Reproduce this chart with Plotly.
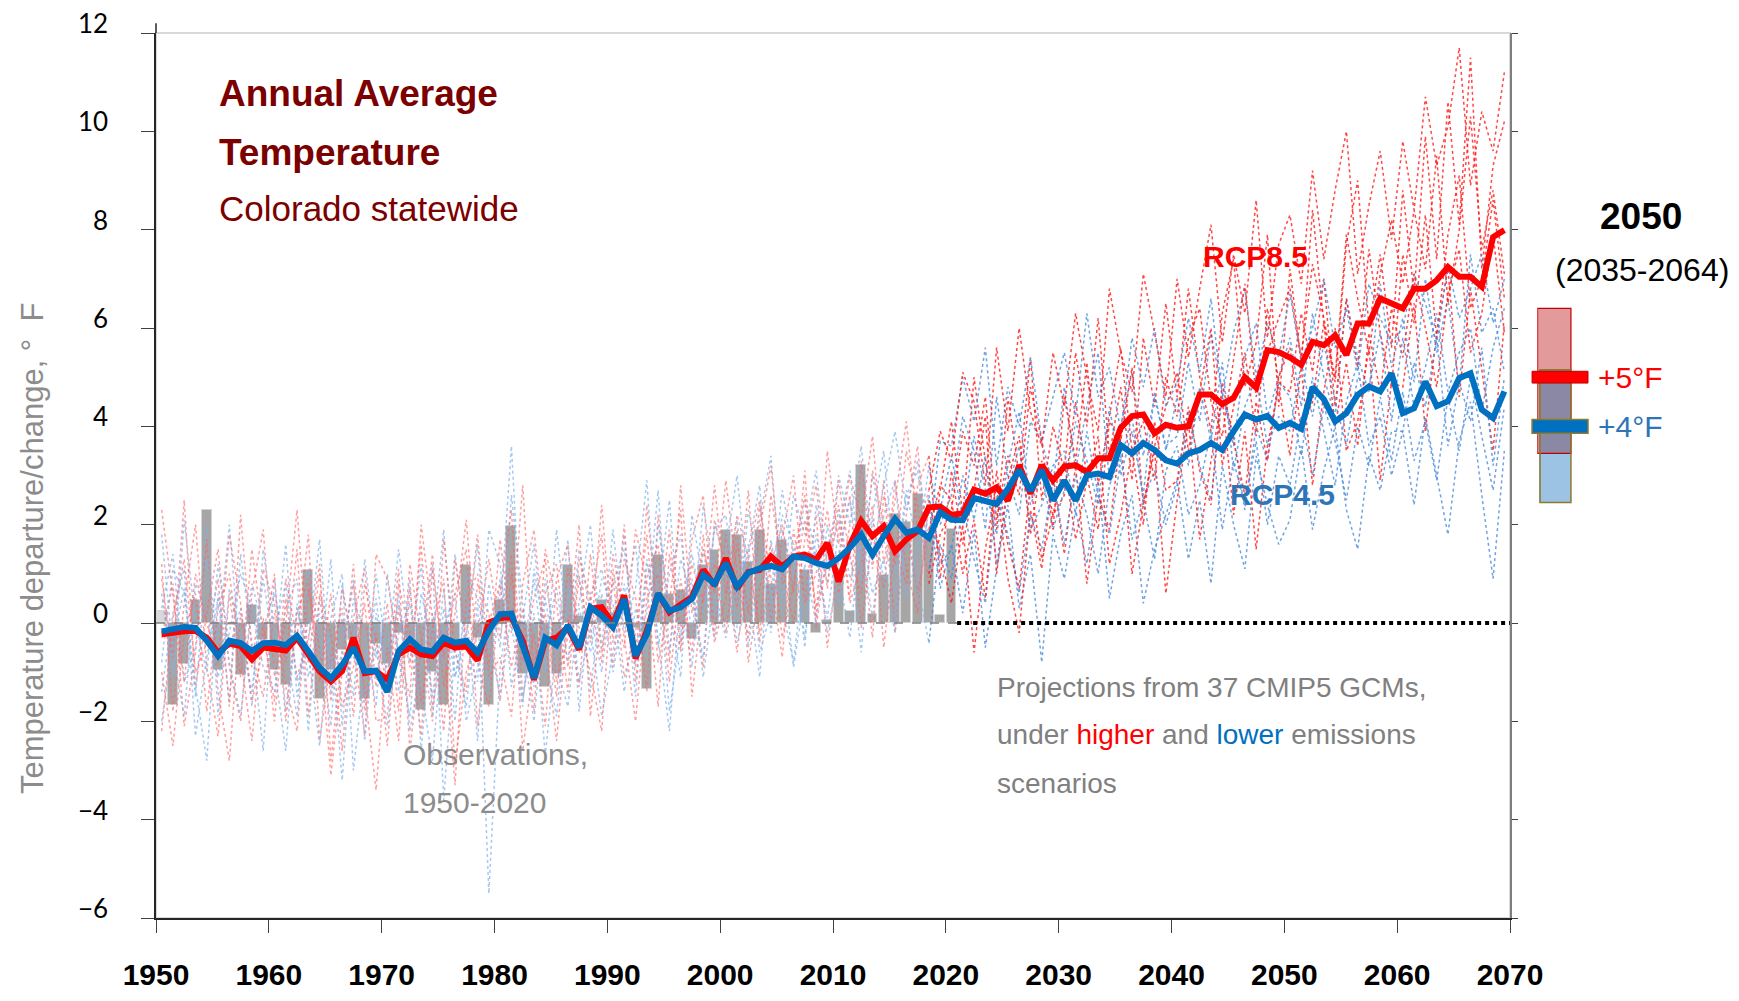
import plotly.graph_objects as go

# ---------------- data ----------------
obs_years = list(range(1950, 2021))
obs_anom = [0.24, -1.66, -0.83, 0.46, 2.29, -0.95, -0.05, -1.05, 0.36, -0.34,
            -0.95, -1.26, -0.05, 1.07, -1.55, -0.95, -0.55, -0.34, -1.55, -0.43,
            -0.83, -0.20, -0.30, -1.76, -1.00, -1.66, -0.45, 1.17, -0.30, -1.66,
            0.46, 1.98, -1.04, -0.90, -1.30, -1.03, 1.18, 0.15, 0.05, 0.46,
            0.20, -0.05, -0.10, -1.35, 1.39, 0.58, 0.67, -0.33, 1.18, 1.49,
            1.89, 1.78, 1.25, 1.89, 0.79, 1.68, 1.39, 1.08, -0.21, 0.06,
            1.09, 0.25, 3.21, 0.19, 0.98, 2.22, 2.05, 2.63, 1.77, 0.16,
            1.92]

proj_years = list(range(1950, 2070))
rcp45_mean = [-0.17, -0.12, -0.08, -0.10, -0.36, -0.67, -0.36, -0.41, -0.57, -0.41,
              -0.40, -0.45, -0.26, -0.57, -0.91, -1.12, -0.85, -0.50, -0.98, -0.97,
              -1.40, -0.57, -0.33, -0.54, -0.58, -0.30, -0.40, -0.36, -0.60, -0.16,
              0.18, 0.19, -0.50, -1.12, -0.30, -0.45, -0.05, -0.50, 0.32, 0.15,
              -0.09, 0.49, -0.67, -0.23, 0.60, 0.25, 0.32, 0.49, 0.98, 0.80,
              1.22, 0.74, 1.02, 1.11, 1.16, 1.09, 1.35, 1.32, 1.22, 1.16,
              1.32, 1.53, 1.80, 1.39, 1.77, 2.12, 1.84, 1.90, 1.73, 2.25,
              2.10, 2.09, 2.54, 2.49, 2.42, 2.73, 3.11, 2.69, 3.11, 2.49,
              2.90, 2.49, 3.00, 3.04, 2.97, 3.62, 3.45, 3.66, 3.52, 3.31,
              3.24, 3.45, 3.52, 3.66, 3.52, 3.90, 4.24, 4.14, 4.21, 3.97,
              4.07, 3.95, 4.80, 4.55, 4.10, 4.27, 4.64, 4.81, 4.71, 5.08,
              4.27, 4.37, 4.91, 4.41, 4.51, 4.98, 5.08, 4.34, 4.17, 4.71]
rcp85_mean = [-0.23, -0.19, -0.17, -0.16, -0.30, -0.60, -0.42, -0.47, -0.74, -0.50,
              -0.52, -0.56, -0.30, -0.64, -0.98, -1.19, -0.98, -0.30, -1.02, -0.98,
              -1.15, -0.64, -0.50, -0.64, -0.67, -0.40, -0.50, -0.47, -0.76, 0.01,
              0.10, 0.12, -0.36, -1.15, -0.36, -0.30, -0.09, -0.54, 0.29, 0.32,
              -0.02, 0.56, -0.72, -0.16, 0.60, 0.22, 0.39, 0.53, 1.08, 0.77,
              1.32, 0.70, 1.04, 1.08, 1.35, 1.15, 1.35, 1.39, 1.29, 1.63,
              0.84, 1.59, 2.08, 1.77, 1.97, 1.46, 1.70, 1.87, 2.35, 2.37,
              2.20, 2.23, 2.71, 2.63, 2.76, 2.49, 3.21, 2.63, 3.21, 2.90,
              3.18, 3.21, 3.07, 3.35, 3.35, 3.97, 4.21, 4.24, 3.86, 4.03,
              3.97, 4.00, 4.65, 4.65, 4.45, 4.58, 5.00, 4.79, 5.55, 5.51,
              5.40, 5.25, 5.72, 5.65, 5.85, 5.45, 6.09, 6.09, 6.60, 6.50,
              6.40, 6.80, 6.80, 6.97, 7.24, 7.04, 7.04, 6.84, 7.85, 7.99]

# individual model runs (estimated from the cloud of dotted lines)
rcp85_m1 = [1.2, -1.8, 0.4, 2.0, -0.9, -2.3, 0.6, -1.1, 1.5, -0.2,
            -1.6, 0.9, -0.3, 1.8, -2.4, -0.7, 0.3, -1.9, 0.8, -0.4,
            -1.2, 1.1, -2.6, -0.5, 1.4, -1.3, 0.2, 2.1, -0.8, -1.7,
            0.6, 2.3, -1.5, -0.2, -2.1, 0.9, 1.6, -0.6, 0.4, 1.8,
            -0.9, 1.3, 0.5, -1.4, 2.2, 0.1, -0.5, 1.7, 2.6, -0.2,
            1.8, 0.3, 2.7, -0.4, 1.2, 2.0, 0.6, 3.1, -0.1, 1.5,
            2.4, 0.5, 3.3, 1.1, 2.9, -0.2, 2.2, 3.6, 1.0, 2.7,
            4.1, 2.2, 5.0, 3.3, 1.9, 4.6, 3.0, 5.4, 2.5, 4.0,
            3.1, 5.5, 4.0, 6.2, 3.4, 4.8, 2.9, 5.8, 4.4, 6.5,
            4.6, 6.8, 5.0, 3.9, 6.3, 7.4, 4.8, 5.7, 7.9, 4.4,
            7.2, 5.3, 8.4, 6.1, 4.9, 7.7, 9.0, 6.0, 7.5, 5.6,
            8.8, 6.7, 9.9, 7.4, 10.6, 8.1, 11.5, 7.2, 9.3, 10.2]
rcp85_m2 = [-0.3, 0.8, -2.1, -0.6, 1.7, -1.4, -2.8, 0.2, -0.9, 1.1,
            0.4, -1.3, -2.2, 0.7, -0.5, -3.1, -1.0, 1.2, -1.8, -0.2,
            -2.5, 0.3, -0.9, 1.6, -1.7, -0.4, -3.3, 0.5, 1.0, -1.1,
            -0.7, -1.9, 0.8, 1.9, -0.4, -2.4, 0.1, -1.3, 1.4, -0.6,
            0.9, -1.1, -0.2, 1.8, -0.8, 0.4, 2.3, -1.5, 0.6, 1.2,
            -0.2, 1.6, 0.2, 2.4, 0.9, -0.7, 1.9, 0.5, 2.2, -0.5,
            1.3, 2.6, -0.1, 1.8, 0.7, 2.9, 1.1, 0.2, 2.5, 1.4,
            0.4, 2.0, -0.6, 1.5, 2.8, 0.9, -0.2, 2.3, 1.1, 3.0,
            1.4, 3.2, 0.8, 2.6, 1.9, 3.8, 1.0, 2.4, 3.5, 0.6,
            2.5, 4.1, 1.7, 3.3, 4.6, 2.2, 3.9, 1.5, 3.6, 4.8,
            3.4, 5.2, 2.8, 4.7, 6.0, 3.5, 4.1, 5.6, 2.9, 4.9,
            4.8, 6.5, 3.9, 5.9, 7.2, 4.6, 6.8, 5.1, 3.5, 6.1]
rcp85_m3 = [-2.2, 0.1, 1.3, -1.0, -0.4, 0.9, -1.7, 2.2, -0.6, -1.5,
            0.2, -0.8, 1.5, -1.9, 0.6, -0.2, -2.6, 0.1, 1.1, -1.3,
            0.4, -1.8, 1.2, -0.3, -2.0, 1.7, -0.6, -1.4, 0.8, 0.2,
            -1.6, 1.0, -0.8, 0.5, 1.3, -1.2, -0.3, 2.0, -1.9, 0.3,
            0.3, -0.5, 1.9, 0.8, -1.7, 1.4, -0.1, 0.7, -0.9, 2.1,
            1.1, -0.6, 1.4, 2.5, 0.0, 1.7, 3.0, 0.4, 1.0, 2.3,
            0.6, 2.0, 1.7, -0.3, 2.6, 1.5, 0.8, 2.8, 3.4, 0.9,
            3.1, 1.6, 2.7, 4.2, 1.0, 2.9, 3.8, 1.8, 3.3, 2.2,
            2.6, 4.5, 3.0, 1.9, 4.1, 3.7, 5.2, 2.4, 3.6, 4.4,
            5.1, 3.5, 4.7, 6.0, 3.2, 4.4, 5.5, 3.8, 6.4, 4.9,
            4.7, 6.3, 5.1, 7.0, 4.4, 6.6, 5.2, 7.6, 5.9, 4.8,
            7.5, 6.1, 8.3, 5.8, 7.9, 9.1, 6.4, 7.0, 8.6, 6.6]
rcp85_m4 = [0.9, -0.7, 2.5, -1.3, 0.2, 1.5, -0.9, -2.0, 0.6, 1.9,
            -1.1, 0.0, 2.3, -0.8, 1.0, -1.6, 0.7, -0.5, -2.3, 1.4,
            0.9, -0.6, -1.5, 2.0, 0.1, -2.2, 1.3, -0.3, 1.8, -0.9,
            1.7, -0.2, 2.8, -1.1, 0.6, 1.2, -0.9, 0.9, -0.4, 2.4,
            -0.4, 2.0, -1.2, 0.9, 1.6, -0.8, 2.8, 0.2, 1.5, 0.6,
            2.9, 1.0, -0.3, 1.9, 3.2, 0.8, 1.3, 2.6, 0.1, 3.5,
            1.6, 3.0, 2.1, 3.8, 1.2, 2.5, 4.1, 1.9, 2.7, 3.9,
            3.3, 5.1, 4.5, 2.8, 5.6, 3.9, 6.0, 4.3, 3.6, 5.5,
            4.4, 6.3, 5.0, 3.9, 6.8, 5.5, 4.7, 7.1, 5.9, 4.6,
            7.0, 5.4, 6.8, 8.1, 5.7, 7.5, 6.3, 8.6, 5.8, 7.7,
            8.3, 6.9, 9.2, 7.4, 8.8, 10.0, 7.1, 8.5, 9.6, 7.8,
            9.8, 8.4, 10.7, 9.3, 10.1, 11.7, 8.9, 10.4, 9.6, 11.2]
rcp85_m5 = [-1.0, -2.5, -0.2, 0.6, -1.8, 0.3, 1.0, -0.7, -2.4, 0.1,
            -2.0, 0.5, -1.1, -0.3, 1.2, -2.8, -0.6, 0.8, -1.4, -3.4,
            -0.5, -2.4, 0.7, -1.6, -0.1, 0.9, -2.9, -1.0, -0.2, 1.3,
            -0.3, 1.4, -2.6, -0.8, 0.2, -1.5, 1.1, -0.1, -1.0, -2.2,
            1.1, -0.3, -2.0, 0.5, 1.0, -1.2, 0.9, -0.6, 1.8, -0.4,
            0.5, 1.9, -0.8, 0.7, 1.6, -0.3, 0.8, 2.1, 0.3, 1.2,
            2.1, 0.4, 1.2, 2.4, -0.5, 1.6, 2.0, 0.6, 1.9, 2.8,
            2.5, 1.0, 2.1, 0.5, 3.1, 1.6, 0.7, 2.8, 1.3, 2.2,
            3.3, 1.7, 2.9, 3.8, 1.2, 2.2, 3.5, 2.0, 4.1, 2.7,
            2.9, 4.4, 3.1, 2.4, 4.9, 3.7, 2.6, 4.5, 3.3, 5.0,
            5.6, 3.9, 4.5, 6.1, 4.0, 5.3, 3.6, 5.9, 4.7, 6.4,
            5.4, 7.1, 6.0, 4.8, 6.7, 7.6, 5.5, 6.3, 7.9, 5.9]
rcp85_m6 = [2.3, 0.5, -1.2, 1.0, 0.0, -0.8, 1.8, 0.4, -1.6, -0.5,
            1.0, -2.0, 0.2, 0.9, -1.2, 0.6, -1.7, -0.9, 0.4, -2.0,
            -1.9, 0.8, -0.2, -2.3, 1.1, -0.7, 0.6, 1.5, -2.1, 0.0,
            0.8, -0.9, 0.3, -1.8, 1.5, 0.4, -1.4, 1.3, 0.5, -0.8,
            1.4, 0.2, -0.8, 2.4, 0.0, 1.9, -0.6, 1.2, 0.4, 2.8,
            0.6, 2.2, 1.3, -0.2, 2.6, 1.1, 0.0, 1.7, 2.8, 0.7,
            2.9, 1.3, 0.6, 3.1, 2.0, 1.2, 3.5, 2.4, 0.8, 1.8,
            2.3, 3.9, 3.2, 4.6, 2.1, 3.4, 2.6, 4.8, 3.7, 1.9,
            4.6, 3.3, 5.3, 2.8, 4.2, 5.6, 3.5, 4.1, 2.9, 5.0,
            4.2, 5.8, 6.4, 4.5, 3.8, 5.3, 6.9, 4.6, 5.5, 6.2,
            6.8, 5.4, 7.3, 6.2, 5.0, 7.9, 6.6, 5.5, 7.1, 8.2,
            6.9, 8.4, 7.2, 9.5, 6.5, 8.0, 10.3, 7.6, 8.8, 7.1]

rcp45_m1 = [0.3, 1.4, -1.2, -0.5, 2.0, -1.9, 0.7, -0.3, -1.4, 0.9,
            -0.6, 1.6, -1.5, 0.1, -0.9, 1.3, -2.1, 0.5, -0.2, -1.7,
            1.0, -0.7, -1.9, 0.6, -0.4, 1.9, -1.1, 0.3, -2.4, 0.8,
            -0.5, 2.6, 0.4, -1.3, 0.9, -0.6, 1.7, -1.8, 0.6, 1.1,
            0.0, 1.8, -0.9, 1.2, 0.5, 2.5, -0.4, 1.4, 0.2, 1.9,
            2.2, 0.4, 1.5, 2.8, -0.2, 1.9, 0.9, 2.5, 1.3, 0.1,
            1.9, 3.1, 0.8, 2.2, 3.5, 1.0, 2.7, 1.5, 3.2, 2.0,
            2.6, 4.2, 3.5, 1.9, 4.6, 3.0, 2.2, 4.1, 3.7, 2.8,
            4.8, 3.1, 4.4, 5.5, 2.9, 4.0, 5.1, 3.4, 4.6, 3.6,
            3.8, 5.3, 4.1, 5.9, 4.7, 3.6, 5.4, 6.1, 4.2, 5.0,
            5.8, 4.4, 6.3, 5.0, 4.2, 6.6, 5.4, 4.7, 6.9, 5.2,
            6.2, 4.9, 7.0, 5.5, 6.6, 4.8, 7.5, 5.9, 6.4, 5.1]
rcp45_m2 = [-1.4, 0.2, 1.1, -2.3, -0.7, 0.5, -1.6, 1.4, -0.4, -2.6,
            0.9, -1.8, 0.3, -0.6, -2.5, 0.1, 1.0, -3.0, -0.9, 0.5,
            -1.3, 0.6, -2.2, -0.8, 1.2, -3.6, -0.5, -1.7, 0.4, -5.5,
            -0.9, 0.7, -1.6, 0.2, -2.7, -0.4, 0.8, -1.2, -0.1, -1.9,
            -0.6, 0.8, -1.5, 1.3, -0.3, -2.2, 0.6, -0.9, 1.5, 0.1,
            1.0, -0.4, 0.6, -1.1, 1.7, 0.3, -0.8, 1.2, 0.0, 2.0,
            0.4, 1.5, -0.6, 2.1, 0.9, -0.2, 1.8, 0.6, 2.4, 0.7,
            1.6, 0.2, 1.9, -0.5, 1.1, 2.4, 0.3, 1.4, -0.8, 1.8,
            0.9, 2.3, 1.2, 2.9, 0.5, 1.8, 2.6, 0.4, 1.5, 2.2,
            2.9, 1.3, 2.5, 0.8, 3.2, 2.0, 1.1, 3.4, 2.4, 1.6,
            2.1, 3.6, 1.9, 3.1, 4.0, 2.3, 1.5, 3.4, 2.7, 3.9,
            3.9, 2.4, 4.2, 3.0, 1.8, 3.7, 4.5, 2.6, 0.9, 3.5]
rcp45_m3 = [1.8, -0.6, -1.9, 0.8, 0.2, -1.1, -0.2, 1.0, 0.3, -0.9,
            -1.4, 0.3, 0.9, -2.2, 0.5, -1.0, 0.1, -1.5, 1.3, -0.7,
            0.1, -1.4, 0.9, -2.6, 0.2, -0.9, 1.4, -0.5, -1.2, 1.9,
            1.2, -1.3, 0.1, 1.6, -0.7, -1.9, 0.5, 1.0, -1.4, 0.6,
            -1.0, 0.4, 1.6, -0.7, 2.0, 0.3, -1.1, 2.2, 0.8, -0.3,
            0.9, 2.1, -0.5, 1.3, 0.6, 2.7, 1.4, -0.3, 1.8, 0.8,
            2.3, 0.9, 1.6, 0.1, 2.2, 2.9, 0.5, 1.4, 2.6, 1.2,
            1.5, 3.0, 2.1, 3.4, 1.2, 2.7, 3.6, 1.9, 2.4, 3.2,
            3.5, 2.2, 3.9, 2.6, 1.8, 3.3, 4.2, 2.5, 3.1, 2.0,
            2.8, 4.3, 3.2, 2.5, 4.6, 3.8, 2.3, 4.0, 3.3, 4.9,
            4.6, 3.4, 5.0, 3.9, 2.8, 4.5, 5.3, 3.6, 4.2, 3.0,
            3.9, 5.3, 4.4, 5.8, 3.6, 4.9, 4.1, 5.6, 3.2, 5.0]
rcp45_m4 = [-0.8, 1.1, 0.6, -1.5, 1.3, -0.4, 2.0, -0.9, 0.8, -0.1,
            0.6, -0.5, -1.9, 1.1, -0.3, -2.1, 0.8, -0.7, -1.1, 1.0,
            -0.7, 1.5, -0.4, 0.2, -1.5, 0.7, -2.0, 1.0, 0.5, -0.6,
            0.2, 3.6, -0.7, 0.9, -1.0, 1.9, -0.2, 0.4, 2.0, -0.5,
            1.9, -0.2, 0.7, 2.9, -0.5, 1.0, 1.8, -0.3, 2.4, 0.9,
            1.5, 3.0, 0.7, 2.1, 3.4, 0.5, 2.6, 1.8, 3.1, 1.1,
            3.0, 2.0, 3.6, 1.4, 2.8, 3.9, 2.3, 3.3, 1.7, 3.7,
            3.6, 5.0, 4.1, 5.6, 3.2, 4.8, 4.0, 5.4, 3.7, 4.6,
            5.5, 4.2, 6.3, 4.6, 5.2, 3.9, 5.8, 4.8, 6.0, 4.4,
            4.9, 6.2, 5.1, 6.6, 4.6, 5.9, 6.8, 5.0, 6.1, 5.4,
            6.7, 5.3, 6.0, 7.0, 5.6, 6.4, 5.1, 6.9, 6.2, 5.7,
            6.0, 7.1, 6.5, 5.7, 7.3, 6.2, 6.8, 7.5, 6.1, 7.0]
rcp45_m5 = [-2.0, -0.4, 0.7, -1.3, -2.8, 0.6, -0.8, -1.9, 0.4, -0.3,
            -0.9, -2.6, 0.4, -1.1, 0.2, -0.4, -3.2, 0.0, -1.6, -0.5,
            -2.1, -0.2, 0.4, -1.3, -2.8, -0.1, 0.6, -2.0, -0.9, -0.3,
            -1.5, 0.2, -0.4, -2.0, 0.5, -0.9, -1.7, 0.3, -0.6, 0.9,
            0.4, -1.4, 0.3, -0.5, 1.1, -1.8, -0.2, 0.9, -1.1, 0.6,
            -0.3, 0.8, 1.6, -0.6, 0.2, 1.2, -0.9, 0.6, 1.5, -0.2,
            1.0, -0.3, 1.9, 0.6, 1.3, 0.0, 2.1, 0.8, -0.4, 1.6,
            0.9, 2.4, 1.3, 0.4, 2.6, 1.8, 0.6, 2.2, 1.5, 2.9,
            1.6, 3.0, 2.2, 1.0, 2.8, 3.4, 1.7, 2.5, 1.3, 3.1,
            3.6, 2.2, 2.8, 3.9, 1.9, 3.3, 2.4, 3.7, 2.0, 3.4,
            2.8, 4.2, 3.0, 4.4, 3.7, 2.5, 4.0, 3.2, 4.6, 3.3,
            4.7, 3.3, 4.1, 2.9, 4.6, 3.5, 5.0, 3.8, 2.7, 4.4]
rcp45_m6 = [0.6, -1.1, 2.1, 0.0, -1.0, 1.2, -0.5, 0.3, -1.7, 1.5,
            -0.2, 0.8, -1.2, -0.4, 1.7, -1.4, -0.6, 0.9, -2.4, 0.2,
            -1.0, 0.4, -0.8, 1.2, -1.9, 0.3, -1.1, -0.2, 1.6, -1.4,
            0.9, 0.0, -1.7, 1.1, -0.3, 0.7, -0.8, 1.5, 0.2, -1.0,
            0.8, 1.5, -0.4, 0.2, 2.7, -0.6, 1.3, 0.5, -0.7, 2.0,
            1.2, -0.1, 2.3, 1.0, 0.4, 2.2, 1.6, -0.5, 2.4, 1.3,
            1.4, 2.5, 1.0, 3.0, 1.7, 0.6, 2.6, 3.1, 1.1, 2.3,
            3.4, 2.1, 3.8, 2.7, 1.8, 3.2, 4.3, 2.4, 3.0, 1.9,
            2.7, 4.1, 3.3, 2.4, 4.4, 3.0, 3.9, 2.6, 4.7, 3.5,
            4.6, 3.2, 4.8, 3.7, 5.3, 3.1, 4.4, 5.0, 3.6, 4.2,
            3.9, 5.3, 4.2, 5.7, 4.5, 3.6, 5.0, 4.8, 5.9, 4.1,
            5.8, 4.4, 5.2, 6.3, 4.7, 5.5, 6.0, 4.3, 5.6, 6.4]

# 2050 (2035-2064) summary: model range and median change
range_2050_rcp85 = [3.45, 6.4]
range_2050_rcp45 = [2.45, 5.15]
change_2050_rcp85 = 5
change_2050_rcp45 = 4

x_ticks = list(range(1950, 2071, 10))
y_ticks = list(range(-6, 13, 2))

# ---------------- figure ----------------
RED = "#ff0000"
BLUE = "#0070c0"
TXTBLUE = "#2e75b6"
DARKRED = "#7b0000"
SANS = "Liberation Sans, Arial, sans-serif"

obs_x = [y + 0.5 for y in obs_years]
proj_x = [y + 0.5 for y in proj_years]
split = proj_years.index(2018)

fig = go.Figure()

rcp85_models = [rcp85_m1, rcp85_m2, rcp85_m3, rcp85_m4, rcp85_m5, rcp85_m6]
rcp45_models = [rcp45_m1, rcp45_m2, rcp45_m3, rcp45_m4, rcp45_m5, rcp45_m6]


def add_model(vals, hist_col, fut_col):
    fig.add_trace(go.Scatter(x=proj_x[:split + 1], y=vals[:split + 1], mode="lines",
                             line=dict(color=hist_col, width=1.5, dash="dot"),
                             hoverinfo="skip", showlegend=False))
    fig.add_trace(go.Scatter(x=proj_x[split:], y=vals[split:], mode="lines",
                             line=dict(color=fut_col, width=1.5, dash="dot"),
                             hoverinfo="skip", showlegend=False))


for m45, m85 in zip(rcp45_models, rcp85_models):
    add_model(m45, "rgba(130,178,235,0.7)", "rgba(75,140,220,0.8)")
    add_model(m85, "rgba(255,100,100,0.62)", "rgba(255,25,25,0.8)")

bar_colors = ["#d9d9d9"] + ["#a6a6a6"] * (len(obs_anom) - 1)
fig.add_trace(go.Bar(x=obs_x, y=obs_anom, width=0.88,
                     marker=dict(color=bar_colors, line=dict(color="#d4d4d4", width=1)),
                     showlegend=False, name="Observations"))

fig.add_trace(go.Scatter(x=proj_x, y=rcp85_mean, mode="lines",
                         line=dict(color=RED, width=6), name="RCP8.5", showlegend=False))
fig.add_trace(go.Scatter(x=proj_x, y=rcp45_mean, mode="lines",
                         line=dict(color=BLUE, width=6), name="RCP4.5", showlegend=False))

# invisible trace to anchor the right-hand axis
fig.add_trace(go.Scatter(x=[proj_x[0]], y=[0], yaxis="y2", mode="markers",
                         marker=dict(opacity=0), hoverinfo="skip", showlegend=False))

shapes = []
# plot-area frame
shapes.append(dict(type="rect", xref="paper", yref="paper", x0=0, x1=1, y0=0, y1=1,
                   line=dict(color="#d9d9d9", width=2), layer="below"))
# y axis line runs a little above the frame
shapes.append(dict(type="line", xref="paper", yref="paper", x0=0, x1=0, y0=1, y1=1.011,
                   line=dict(color="#262626", width=1.5)))
# zero lines
shapes.append(dict(type="line", xref="x", yref="y", x0=1950, x1=2021, y0=0, y1=0,
                   line=dict(color="#7f7f7f", width=1.5, dash="dash"), layer="above"))
shapes.append(dict(type="line", xref="x", yref="y", x0=2021, x1=2070, y0=0, y1=0,
                   line=dict(color="black", width=4, dash="dot"), layer="above"))

# 2050 range boxes (paper x beyond the plot, data y)
bx0, bx1 = 1.0214, 1.0450
lo85, hi85 = range_2050_rcp85
lo45, hi45 = range_2050_rcp45
shapes.append(dict(type="rect", xref="paper", yref="y", x0=bx0, x1=bx1, y0=hi45, y1=hi85,
                   fillcolor="#e39a9a", line=dict(width=0)))
shapes.append(dict(type="rect", xref="paper", yref="y", x0=bx0, x1=bx1, y0=lo85, y1=hi45,
                   fillcolor="#8a88a4", line=dict(width=0)))
shapes.append(dict(type="rect", xref="paper", yref="y", x0=bx0, x1=bx1, y0=lo45, y1=lo85,
                   fillcolor="#9cc3e4", line=dict(width=0)))
shapes.append(dict(type="rect", xref="paper", yref="y", x0=bx0 - 0.0008, x1=bx1, y0=lo85, y1=hi85,
                   fillcolor="rgba(0,0,0,0)", line=dict(color="#c00000", width=1.2)))
shapes.append(dict(type="rect", xref="paper", yref="y", x0=bx0 + 0.0008, x1=bx1, y0=lo45, y1=hi45,
                   fillcolor="rgba(0,0,0,0)", line=dict(color="#8c7a2c", width=1.5)))
mx0, mx1 = 1.0163, 1.0576
shapes.append(dict(type="rect", xref="paper", yref="y", x0=mx0, x1=mx1,
                   y0=change_2050_rcp85 - 0.12, y1=change_2050_rcp85 + 0.12,
                   fillcolor=RED, line=dict(color="#c00000", width=1)))
shapes.append(dict(type="rect", xref="paper", yref="y", x0=mx0, x1=mx1,
                   y0=change_2050_rcp45 - 0.14, y1=change_2050_rcp45 + 0.14,
                   fillcolor=BLUE, line=dict(color="#8c7a2c", width=1.5)))

ann = []


def text(x, y, s, size, color, family=SANS, xanchor="left", yanchor="middle", bold=False,
         xref="paper", yref="paper", angle=0):
    ann.append(dict(x=x, y=y, xref=xref, yref=yref, text=s, showarrow=False,
                    xanchor=xanchor, yanchor=yanchor, textangle=angle, align="left",
                    font=dict(family=family, size=size, color=color,
                              weight="bold" if bold else "normal")))


text(0.045, 0.932, "Annual Average", 37, DARKRED, bold=True)
text(0.045, 0.8655, "Temperature", 37, DARKRED, bold=True)
text(0.045, 0.802, "Colorado statewide", 35, DARKRED)
text(0.8124, 0.748, "RCP8.5", 30, RED, xanchor="center", bold=True)
text(0.832, 0.479, "RCP4.5", 30, TXTBLUE, xanchor="center", bold=True)
text(1.0967, 0.793, "2050", 37, "black", xanchor="center", bold=True)
text(1.0975, 0.732, "(2035-2064)", 32, "black", xanchor="center")
text(1.0635, change_2050_rcp85, "+%d°F" % change_2050_rcp85, 30, RED, yref="y")
text(1.0635, change_2050_rcp45, "+%d°F" % change_2050_rcp45, 30, TXTBLUE, yref="y")
text(0.181, 0.1853, "Observations,", 30, "#8c8c8c")
text(0.181, 0.131, "1950-2020", 30, "#8c8c8c")
text(0.620, 0.2610, "Projections from 37 CMIP5 GCMs,", 28, "#808080")
text(0.620, 0.2068, "under <span style='color:#ff0000'>higher</span> and "
     "<span style='color:#0070c0'>lower</span> emissions", 28, "#808080")
text(0.620, 0.1525, "scenarios", 28, "#808080")
text(-0.0908, 0.417, "Temperature departure/change, °  F", 31, "#8c8c8c",
     xanchor="center", angle=-90)

# The page body adds an 8px margin; the figure is sized so it still fills the window.
fig.update_layout(
    width=1723, height=985,
    margin=dict(l=148, r=221, t=25, b=75),
    paper_bgcolor="white", plot_bgcolor="white",
    showlegend=False, bargap=0,
    shapes=shapes, annotations=ann,
    xaxis=dict(range=[1950, 2070], tickvals=x_ticks, ticktext=[str(t) for t in x_ticks],
               showgrid=False, zeroline=False, showline=True, linecolor="#262626", linewidth=2,
               ticks="outside", ticklen=13, tickcolor="#404040", tickwidth=1,
               tickfont=dict(family=SANS, size=30, color="black", weight="bold"),
               ticklabelstandoff=16, automargin=False),
    yaxis=dict(range=[-6, 12], tickvals=y_ticks, showgrid=False, zeroline=False,
               showline=True, linecolor="#262626", linewidth=1.5,
               ticks="outside", ticklen=13, tickcolor="#404040", tickwidth=1,
               tickfont=dict(family="Lato, Open Sans, sans-serif", size=26, color="black"),
               ticklabelstandoff=28, ticklabelshift=-9, ticklabeloverflow="allow",
               automargin=False),
    yaxis2=dict(range=[-6, 12], overlaying="y", side="right", tickvals=y_ticks,
                showgrid=False, zeroline=False, showline=True, linecolor="#7f7f7f",
                linewidth=1.5, ticks="outside", ticklen=6, tickcolor="#404040",
                showticklabels=False, automargin=False),
)

fig.write_html("out.html")
